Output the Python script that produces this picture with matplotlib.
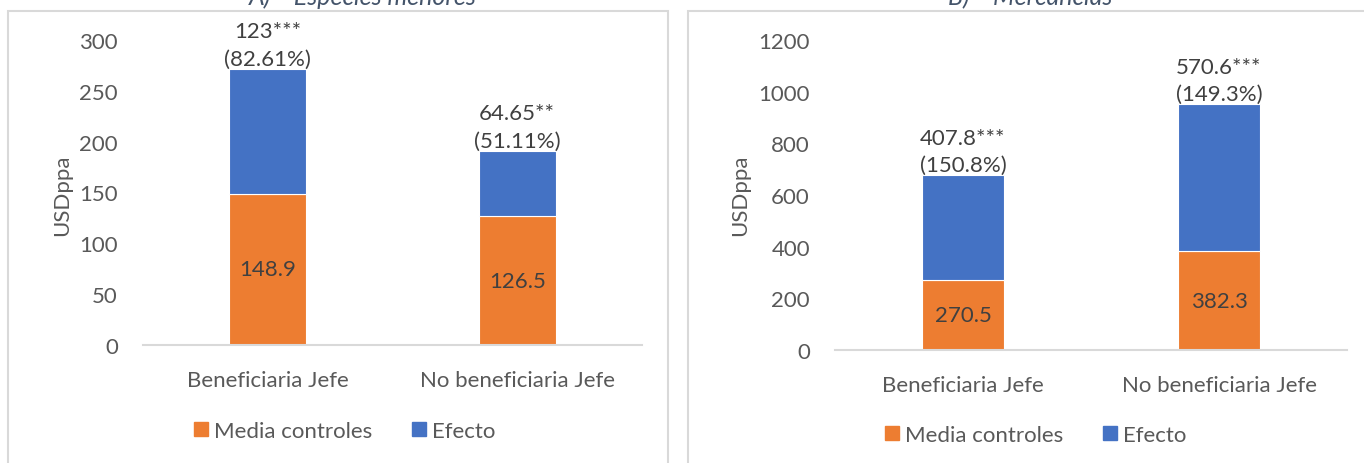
import matplotlib
matplotlib.use("Agg")
import matplotlib.pyplot as plt
from matplotlib.patches import Rectangle, Patch

plt.rcParams['font.family'] = ['Lato', 'DejaVu Sans']

categories = ["Beneficiaria Jefe", "No beneficiaria Jefe"]

# Panel A
a_title = "A)    Especies menores"
a_control = [148.9, 126.5]
a_effect = [123, 64.65]
a_top_labels = ["123***\n(82.61%)", "64.65**\n(51.11%)"]
a_yticks = [0, 50, 100, 150, 200, 250, 300]

# Panel B
b_title = "B)    Mercancías"
b_control = [270.5, 382.3]
b_effect = [407.8, 570.6]
b_top_labels = ["407.8***\n(150.8%)", "570.6***\n(149.3%)"]
b_yticks = [0, 200, 400, 600, 800, 1000, 1200]

ORANGE = "#ED7D31"
BLUE = "#4472C4"
TXT = "#595959"
GRID = "#D9D9D9"
FS = 16

W, H = 1364, 464
fig = plt.figure(figsize=(W / 100, H / 100), dpi=100)

def fx(px):
    return px / W

def fy(py):
    return 1 - py / H

# outer frames
fig.patches.append(Rectangle((fx(8), fy(470)), fx(668 - 8), fy(12) - fy(470),
                             transform=fig.transFigure, fill=False,
                             edgecolor=GRID, lw=1.5))
fig.patches.append(Rectangle((fx(688), fy(470)), fx(1380 - 688), fy(12) - fy(470),
                             transform=fig.transFigure, fill=False,
                             edgecolor=GRID, lw=1.5))

def panel(rect, control, effect, top_labels, yticks, ylim, width, title, title_x,
          leg_x, leg_y, ylab_x):
    ax = fig.add_axes(rect)
    x = range(len(categories))
    ax.bar(x, control, width=width, color=ORANGE, edgecolor="white", linewidth=0.8,
           label="Media controles")
    ax.bar(x, effect, bottom=control, width=width, color=BLUE, edgecolor="white",
           linewidth=0.8, label="Efecto")
    for i in x:
        ax.text(i, control[i] / 2, f"{control[i]}", ha="center", va="center",
                fontsize=FS, color="#404040")
        ax.text(i, control[i] + effect[i], top_labels[i], ha="center", va="bottom",
                fontsize=FS, color="#404040", linespacing=1.45)
    ax.set_xlim(-0.5, 1.5)
    ax.set_ylim(*ylim)
    ax.set_yticks(yticks)
    ax.set_xticks(list(x))
    ax.set_xticklabels(categories)
    ax.tick_params(axis="both", length=0, labelsize=FS, colors=TXT)
    ax.tick_params(axis="y", pad=18)
    ax.tick_params(axis="x", pad=18)
    for s in ["top", "right", "left"]:
        ax.spines[s].set_visible(False)
    ax.spines["bottom"].set_color(GRID)
    ax.spines["bottom"].set_linewidth(1.5)
    fig.text(ylab_x, fy(195), "USDppa", rotation=90, ha="center", va="center",
             fontsize=FS, color=TXT)
    fig.text(title_x, fy(5), title, ha="center", va="baseline", fontsize=FS + 2,
             style="italic", color="#44546A")
    handles = [Patch(color=ORANGE), Patch(color=BLUE)]
    fig.legend(handles, ["Media controles", "Efecto"], loc="center",
               bbox_to_anchor=(leg_x, fy(leg_y)), ncol=2, frameon=False,
               fontsize=FS, labelcolor=TXT, handlelength=0.6, handleheight=0.6,
               handletextpad=0.3, columnspacing=1.8)
    return ax

panel([fx(143), fy(346), fx(642 - 143), fy(41) - fy(346)],
      a_control, a_effect, a_top_labels, a_yticks, (0, 300), 0.31, a_title,
      fx(363), fx(345), 432, fx(62))
panel([fx(835), fy(351), fx(1347 - 835), fy(41) - fy(351)],
      b_control, b_effect, b_top_labels, b_yticks, (0, 1200), 0.32, b_title,
      fx(1030), fx(1036), 436, fx(740))

fig.savefig("out.png", dpi=100, facecolor="white")
